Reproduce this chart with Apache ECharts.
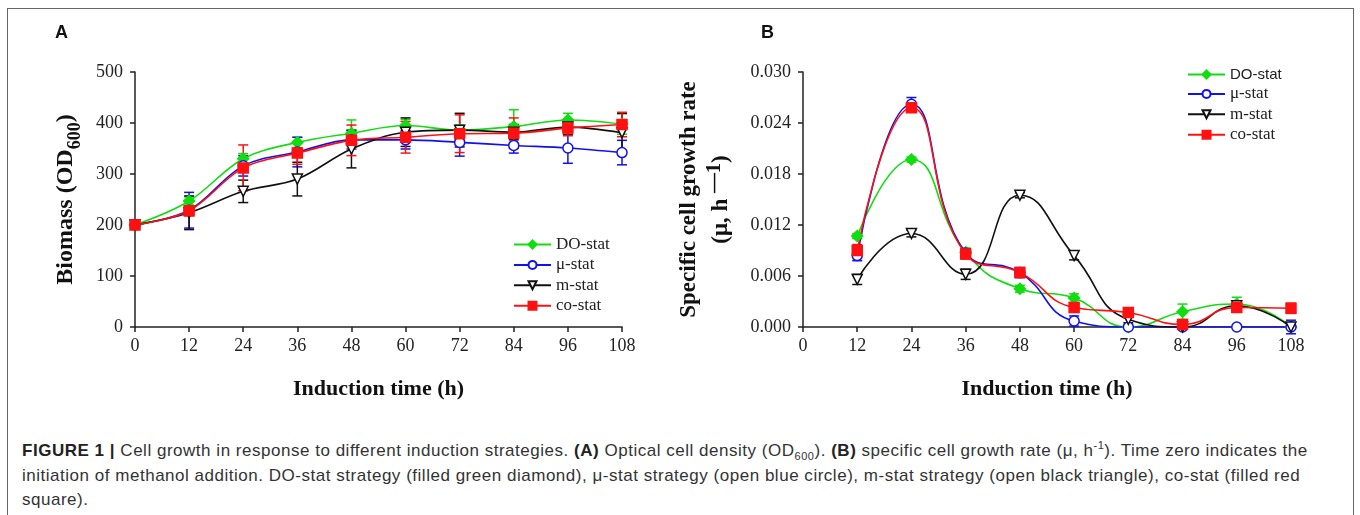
<!DOCTYPE html>
<html>
<head>
<meta charset="utf-8">
<script src="https://cdn.jsdelivr.net/npm/echarts@6/dist/echarts.min.js"></script>
<style>
  html, body { margin: 0; padding: 0; background: #fff; }
  #wrap { position: relative; width: 1360px; height: 515px; overflow: hidden; }
  #frame { position: absolute; left: 7px; top: 8px; width: 1347px; height: 520px; border: 1.5px solid #666; box-sizing: border-box; }
  #chart { position: absolute; left: 0; top: 0; width: 1360px; height: 420px; }
  #caption { position: absolute; left: 22px; top: 439px; width: 1330px; font-family: 'Liberation Sans', Arial, sans-serif; font-size: 17px; letter-spacing: 0.52px; line-height: 24.6px; color: #333; white-space: nowrap; }
  #caption b { color: #222; }
  #caption sub, #caption sup { font-size: 11px; line-height: 0; }
</style>
</head>
<body>
<div id="wrap">
  <div id="frame"></div>
  <div id="chart"></div>
  <div id="caption"><b>FIGURE 1 |</b> Cell growth in response to different induction strategies. <b>(A)</b> Optical cell density (OD<sub>600</sub>). <b>(B)</b> specific cell growth rate (&mu;, h<sup>-1</sup>). Time zero indicates the<br>initiation of methanol addition. DO-stat strategy (filled green diamond), &mu;-stat strategy (open blue circle), m-stat strategy (open black triangle), co-stat (filled red<br>square).</div>
</div>
<script>
// induction time (h)
const timesA = [0, 12, 24, 36, 48, 60, 72, 84, 96, 108]
const timesB = [12, 24, 36, 48, 60, 72, 84, 96, 108]

// A: biomass (OD600)
const doA = [200, 247, 330, 362, 380, 395, 386, 393, 406, 398]
const muA = [200, 229, 316, 343, 367, 367, 362, 356, 351, 342]
const mA = [200, 224, 266, 290, 349, 382, 386, 382, 392, 381]
const coA = [200, 228, 312, 341, 366, 372, 379, 380, 390, 397]
const doAErr = [0, 8, 10, 10, 26, 12, 10, 33, 13, 20]
const muAErr = [0, 35, 20, 29, 18, 18, 27, 15, 30, 24]
const mAErr = [0, 33, 22, 33, 37, 28, 33, 15, 15, 38]
const coAErr = [0, 10, 45, 22, 30, 31, 37, 30, 15, 24]

// B: specific growth rate (1/h)
const doB = [0.0107, 0.0197, 0.0088, 0.0045, 0.0034, 0.0, 0.0018, 0.0027, 0.0]
const muB = [0.0084, 0.0262, 0.0087, 0.0064, 0.0007, 0.0, 0.0, 0.0, 0.0]
const mB = [0.0056, 0.0110, 0.0062, 0.0155, 0.0084, 0.0009, 0.0, 0.0025, 0.0]
const coB = [0.0090, 0.0258, 0.0086, 0.0064, 0.0023, 0.0017, 0.0003, 0.0023, 0.0022]
const doBErr = [0.0003, 0.0003, 0.0005, 0.0004, 0.0005, 0, 0.0009, 0.0008, 0.0002]
const muBErr = [0.0006, 0.0008, 0.0005, 0.0006, 0.0006, 0, 0, 0, 0.0008]
const mBErr = [0.0006, 0.0004, 0.0006, 0.0003, 0.0005, 0.0004, 0.0002, 0.0003, 0.0002]
const coBErr = [0.0007, 0.0005, 0.0006, 0.0004, 0.0003, 0.0004, 0.0005, 0.0003, 0.0006]

const GREEN = '#11dd11'
const BLUE = '#1111ee'
const BLACK = '#111111'
const RED = '#ff1111'
const serif = "'Liberation Serif', 'Times New Roman', serif"

const styles = [
  { name: 'DO-stat', color: GREEN, symbol: 'diamond', size: 11, fill: GREEN, rotate: 0 },
  { name: 'μ-stat', color: BLUE, symbol: 'circle', size: 10, fill: '#fff', rotate: 0 },
  { name: 'm-stat', color: BLACK, symbol: 'triangle', size: 10, fill: '#fff', rotate: 180 },
  { name: 'co-stat', color: RED, symbol: 'rect', size: 10, fill: RED, rotate: 0 },
]

const pairs = (xs, ys) => xs.map((x, i) => [x, ys[i]])
const errPairs = (xs, ys, es) => xs.map((x, i) => [x, ys[i] - es[i], ys[i] + es[i]])

const lineSeries = (st, data, idx, smooth) => ({
  type: 'line',
  name: st.name,
  xAxisIndex: idx,
  yAxisIndex: idx,
  data,
  smooth,
  symbol: st.symbol,
  symbolSize: st.size,
  symbolRotate: st.rotate,
  showAllSymbol: true,
  lineStyle: { color: st.color, width: 1.6 },
  itemStyle: { color: st.fill, borderColor: st.color, borderWidth: 1.5 },
  emphasis: { disabled: true },
  z: 3,
})

const errSeries = (st, data, idx) => ({
  type: 'custom',
  xAxisIndex: idx,
  yAxisIndex: idx,
  data,
  silent: true,
  z: 2,
  encode: { x: 0, y: [1, 2] },
  renderItem: (params, api) => {
    const x = api.value(0)
    const lo = api.coord([x, api.value(1)])
    const hi = api.coord([x, api.value(2)])
    const w = 5
    const style = { stroke: st.color, lineWidth: 1.5 }
    return {
      type: 'group',
      children: [
        { type: 'line', shape: { x1: lo[0], y1: lo[1], x2: hi[0], y2: hi[1] }, style },
        { type: 'line', shape: { x1: lo[0] - w, y1: lo[1], x2: lo[0] + w, y2: lo[1] }, style },
        { type: 'line', shape: { x1: hi[0] - w, y1: hi[1], x2: hi[0] + w, y2: hi[1] }, style },
      ],
    }
  },
})

const xAxisBase = (idx) => ({
  type: 'value',
  gridIndex: idx,
  min: 0,
  max: 108,
  interval: 12,
  name: 'Induction time (h)',
  nameLocation: 'middle',
  nameGap: 51,
  nameTextStyle: { fontFamily: serif, fontWeight: 'bold', fontSize: 22, color: '#111' },
  axisLine: { show: true, lineStyle: { color: '#222', width: 1.5 } },
  axisTick: { show: true, length: 5, lineStyle: { color: '#222', width: 1.5 } },
  axisLabel: { fontFamily: serif, fontSize: 18, color: '#222', margin: 10 },
  splitLine: { show: false },
})

const yAxisBase = (idx) => ({
  type: 'value',
  gridIndex: idx,
  min: 0,
  axisLine: { show: true, lineStyle: { color: '#222', width: 1.5 } },
  axisTick: { show: true, length: 5, lineStyle: { color: '#222', width: 1.5 } },
  axisLabel: { fontFamily: serif, fontSize: 18, color: '#222', margin: 12 },
  splitLine: { show: false },
  nameLocation: 'middle',
  nameRotate: 90,
})

const chart = echarts.init(document.getElementById('chart'))

const dataA = [doA, muA, mA, coA]
const errA = [doAErr, muAErr, mAErr, coAErr]
const dataB = [doB, muB, mB, coB]
const errB = [doBErr, muBErr, mBErr, coBErr]

const series = []
styles.forEach((st, i) => {
  series.push(errSeries(st, errPairs(timesA, dataA[i], errA[i]), 0))
  series.push(lineSeries(st, pairs(timesA, dataA[i]), 0, 0.35))
  series.push(errSeries(st, errPairs(timesB, dataB[i], errB[i]), 1))
  series.push(lineSeries(st, pairs(timesB, dataB[i]), 1, 0.5))
})

chart.setOption({
  animation: false,
  backgroundColor: 'transparent',
  grid: [
    { left: 135, top: 72, width: 487, height: 255 },
    { left: 803, top: 72, width: 488, height: 255 },
  ],
  xAxis: [xAxisBase(0), xAxisBase(1)],
  yAxis: [
    {
      ...yAxisBase(0),
      max: 500,
      interval: 100,
      name: '{t|Biomass (OD}{s|600}{t|)}',
      nameGap: 51,
      nameTextStyle: {
        rich: {
          t: { fontFamily: serif, fontWeight: 'bold', fontSize: 24, color: '#111', verticalAlign: 'top', lineHeight: 30 },
          s: { fontFamily: serif, fontWeight: 'bold', fontSize: 18, color: '#111', verticalAlign: 'bottom', lineHeight: 18 },
        },
      },
    },
    {
      ...yAxisBase(1),
      max: 0.03,
      interval: 0.006,
      axisLabel: { ...yAxisBase(1).axisLabel, formatter: (v) => v.toFixed(3) },
      name: '{t|Specific cell growth rate}\n{t|(μ, h }{p|—1}{t|)}',
      nameGap: 66,
      nameTextStyle: {
        align: 'center',
        rich: {
          t: { fontFamily: serif, fontWeight: 'bold', fontSize: 23, color: '#111', lineHeight: 32 },
          p: { fontFamily: serif, fontWeight: 'bold', fontSize: 20, color: '#111', lineHeight: 20, verticalAlign: 'top' },
        },
      },
    },
  ],
  legend: [
    {
      orient: 'vertical',
      left: 508,
      top: 231,
      itemWidth: 37,
      itemHeight: 10,
      itemGap: 3.4,
      data: styles.map((s) => s.name),
      textStyle: { fontFamily: serif, fontSize: 17, color: '#222' },
      selectedMode: false,
    },
    {
      orient: 'vertical',
      left: 1182,
      top: 62,
      itemWidth: 37,
      itemHeight: 10,
      itemGap: 3.4,
      data: styles.map((s) => s.name),
      formatter: (name) => (name === 'DO-stat' ? '{s|' + name + '}' : '{r|' + name + '}'),
      textStyle: {
        color: '#222',
        rich: {
          s: { fontFamily: "'Liberation Sans', Arial, sans-serif", fontSize: 15, color: '#222' },
          r: { fontFamily: serif, fontSize: 17, color: '#222' },
        },
      },
      selectedMode: false,
    },
  ],
  graphic: [
    { type: 'text', left: 55, top: 24, style: { text: 'A', font: "bold 18px 'Liberation Sans', Arial, sans-serif", fill: '#111' } },
    { type: 'text', left: 761, top: 24, style: { text: 'B', font: "bold 18px 'Liberation Sans', Arial, sans-serif", fill: '#111' } },
  ],
  series,
})
</script>
</body>
</html>
